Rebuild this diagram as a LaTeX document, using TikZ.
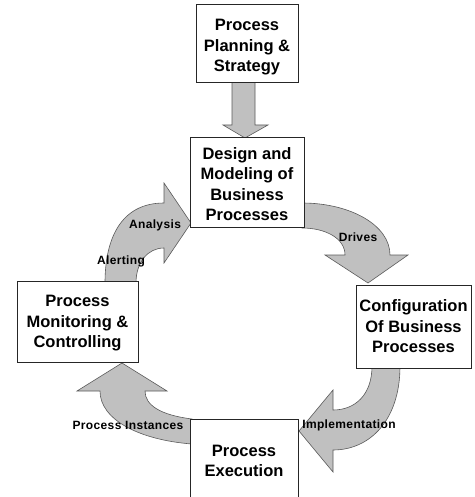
\documentclass[tikz,border=0pt]{standalone}
\usepackage{fontspec}
\setmainfont{Liberation Sans}
\definecolor{arrowgray}{RGB}{192,192,192}
\definecolor{edgegray}{RGB}{90,90,90}
\begin{document}
\begin{tikzpicture}[x=1pt,y=-1pt,
  box/.style={draw=black!85, line width=0.8pt, fill=white, align=center,
    font=\fontsize{16.5}{20.5}\selectfont\bfseries, inner sep=0pt},
  blockarrow/.style={fill=arrowgray, draw=edgegray, line width=0.6pt, line join=miter},
  lbl/.style={font=\fontsize{12}{14}\selectfont\bfseries\addfontfeature{LetterSpace=3}, inner sep=0pt}]
\clip (0,0) rectangle (474,497);
% block arrows (drawn first, boxes cover their roots)
\draw[blockarrow] (232,80) -- (255,80) -- (255,125) -- (268,125) -- (245,138) -- (223,125) -- (232,125) -- cycle;
% Drives
\draw[blockarrow] (302,203) .. controls (350,203) and (390,225) .. (390,255)
  -- (408,255) -- (368,283) -- (325,255) -- (345,255)
  .. controls (345,238) and (325,228) .. (302,228) -- cycle;
% Implementation
\draw[blockarrow] (400,366) .. controls (400,420) and (370,450) .. (333,450)
  -- (333,472) -- (299,431) -- (333,390) -- (333,410)
  .. controls (355,410) and (372,395) .. (372,366) -- cycle;
% Process Instances
\draw[blockarrow] (192,444) .. controls (140,440) and (100,420) .. (100,391)
  -- (77,391) -- (122,363) -- (167,391) -- (145,391)
  .. controls (145,405) and (160,415) .. (192,419) -- cycle;
% Analysis / Alerting
\draw[blockarrow] (105,283) .. controls (105,240) and (120,203) .. (164,203)
  -- (164,183) -- (191,223) -- (164,263) -- (164,248)
  .. controls (148,248) and (136,262) .. (136,283) -- cycle;
% boxes
\node[box, minimum width=102pt, minimum height=78pt] (plan) at (247,43) {\rule{0pt}{20pt}Process\\Planning \&\\Strategy};
\node[box, minimum width=114pt, minimum height=90pt] (design) at (247,182) {\rule{0pt}{16pt}Design and\\Modeling of\\Business\\Processes};
\node[box, minimum width=115pt, minimum height=83pt] (config) at (413.5,326.5) {Configuration\\Of Business\\Processes};
\node[box, minimum width=121pt, minimum height=81pt] (monitor) at (77.5,321.5) {\rule{0pt}{15pt}Process\\Monitoring \&\\Controlling};
\node[box, minimum width=108pt, minimum height=84pt] (exec) at (244,461) {Process\\Execution};
% labels
\node[lbl] (ldrives) at (358,237) {Drives};
\node[lbl] (lanalysis) at (155,225) {Analysis};
\node[lbl] (lalert) at (121,261) {Alerting};
\node[lbl] (linst) at (128,425) {Process Instances};
\node[lbl] (limpl) at (349,425) {Implementation};
\end{tikzpicture}
\end{document}
